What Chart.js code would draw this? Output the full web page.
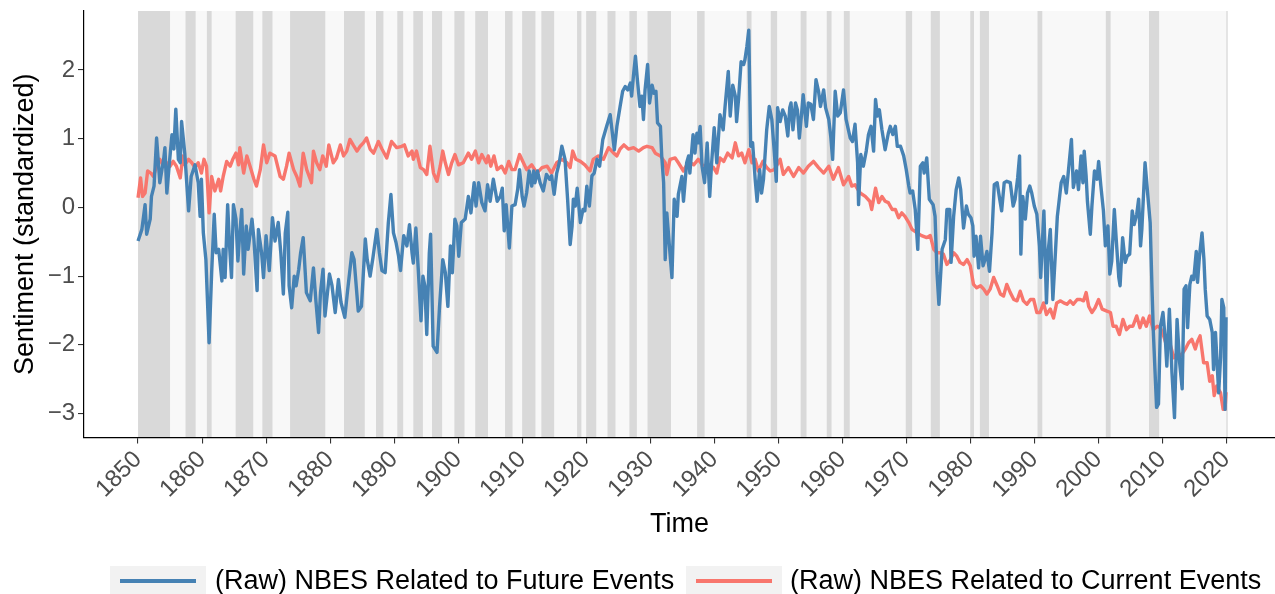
<!DOCTYPE html>
<html><head><meta charset="utf-8">
<script src="https://cdn.jsdelivr.net/npm/chart.js@4.4.1/dist/chart.umd.min.js"></script>
<style>
html,body{margin:0;padding:0;background:#fff;}
#wrap{position:relative;width:1275px;height:594px;overflow:hidden;background:#fff;}
#c{position:absolute;left:0;top:0;}
.key{position:absolute;top:566px;width:96px;height:30px;background:#f2f2f2;}
.key span{position:absolute;left:10px;right:10px;top:13px;height:4px;}
.lab{position:absolute;top:562px;font-family:'Liberation Sans',Arial,sans-serif;font-size:27px;color:#000;line-height:36px;white-space:nowrap;}
</style></head><body>
<div id="wrap">
<canvas id="c" width="1275" height="594"></canvas>
<div class="key" style="left:110px"><span id="k1"></span></div>
<div class="lab" style="left:215px" id="lab1"></div>
<div class="key" style="left:686px"><span id="k2"></span></div>
<div class="lab" style="left:790px" id="lab2"></div>
</div>
<script>
// ---------- data ----------
const seriesNames = ['(Raw) NBES Related to Future Events', '(Raw) NBES Related to Current Events'];
const xTickValues = [1850,1860,1870,1880,1890,1900,1910,1920,1930,1940,1950,1960,1970,1980,1990,2000,2010,2020];
const yTickValues = [-3,-2,-1,0,1,2];

const futureYears = [1850.0,1850.6,1851.1,1851.35,1851.9,1852.1,1852.5,1852.9,1853.4,1854.0,1854.2,1854.5,1854.9,1855.3,1855.6,1855.9,1856.3,1856.6,1856.8,1857.3,1857.9,1858.3,1858.9,1859.4,1859.7,1859.9,1860.2,1860.6,1861.1,1861.5,1861.9,1862.2,1862.6,1863.1,1863.3,1863.6,1864.0,1864.3,1864.6,1864.9,1865.3,1865.6,1865.9,1866.2,1866.5,1866.9,1867.2,1867.8,1868.1,1868.6,1868.8,1869.3,1869.6,1870.0,1870.5,1871.0,1871.4,1871.9,1872.3,1872.7,1873.0,1873.4,1873.6,1874.0,1874.4,1874.7,1875.1,1875.4,1875.8,1876.3,1876.9,1877.4,1877.8,1878.2,1878.5,1878.9,1879.2,1879.9,1880.3,1880.8,1881.3,1881.7,1882.3,1882.7,1883.4,1883.75,1884.4,1884.9,1885.5,1885.8,1886.25,1886.7,1887.3,1887.7,1888.1,1888.6,1889.1,1889.5,1889.9,1890.3,1890.7,1891.0,1891.5,1892.0,1892.4,1892.8,1893.0,1893.4,1893.8,1894.2,1894.5,1894.8,1895.1,1895.5,1895.7,1896.1,1896.7,1897.1,1897.6,1898.0,1898.4,1898.8,1899.1,1899.5,1899.8,1900.1,1900.5,1901.1,1901.6,1902.0,1902.5,1902.8,1903.2,1903.7,1904.2,1904.6,1905.0,1905.5,1906.1,1906.6,1906.9,1907.2,1907.5,1908.0,1908.4,1908.9,1909.3,1909.6,1910.0,1910.3,1910.7,1911.1,1911.5,1911.8,1912.0,1912.4,1912.8,1913.3,1913.8,1914.3,1914.6,1915.0,1915.4,1915.8,1916.2,1916.7,1917.1,1917.5,1917.8,1918.0,1918.3,1918.6,1919.1,1919.5,1919.8,1920.1,1920.5,1920.9,1921.25,1921.7,1922.1,1922.6,1923.2,1923.75,1924.4,1924.8,1925.3,1925.7,1926.1,1926.5,1926.9,1927.1,1927.4,1927.7,1928.0,1928.4,1928.7,1928.95,1929.2,1929.6,1929.9,1930.3,1930.6,1930.9,1931.15,1931.6,1931.8,1932.1,1932.35,1932.6,1933.0,1933.4,1933.75,1934.2,1934.4,1934.95,1935.2,1935.7,1936.0,1936.2,1936.7,1937.0,1937.3,1937.5,1937.8,1938.1,1938.5,1938.9,1939.3,1939.6,1940.0,1940.4,1940.9,1941.4,1941.7,1942.2,1942.5,1942.9,1943.3,1943.5,1943.8,1944.2,1944.6,1944.8,1945.1,1945.4,1945.7,1946.0,1946.4,1946.7,1947.1,1947.4,1947.7,1948.2,1948.6,1949.0,1949.4,1949.7,1949.9,1950.3,1950.7,1951.1,1951.5,1951.8,1952.0,1952.3,1952.7,1953.0,1953.3,1953.7,1953.9,1954.4,1954.7,1955.1,1955.5,1955.9,1956.3,1956.6,1957.1,1957.4,1957.9,1958.2,1958.5,1958.9,1959.3,1959.7,1960.2,1960.6,1961.25,1961.6,1962.0,1962.4,1962.55,1962.9,1963.3,1963.75,1964.1,1964.5,1964.9,1965.2,1965.5,1965.8,1966.2,1966.7,1967.2,1967.5,1967.9,1968.3,1968.6,1969.1,1969.6,1970.0,1970.4,1970.6,1971.0,1971.4,1971.8,1972.2,1972.6,1972.8,1973.2,1973.6,1974.2,1974.5,1974.8,1975.1,1975.6,1976.1,1976.35,1976.8,1977.0,1977.4,1977.8,1978.2,1978.5,1978.95,1979.4,1979.7,1980.1,1980.4,1980.6,1980.9,1981.3,1981.6,1982.0,1982.3,1982.6,1983.0,1983.4,1983.75,1984.2,1984.6,1984.9,1985.3,1985.7,1986.25,1986.7,1987.0,1987.4,1987.7,1987.9,1988.2,1988.6,1988.95,1989.3,1989.6,1990.0,1990.4,1990.8,1991.0,1991.5,1991.9,1992.2,1992.5,1992.9,1993.3,1993.6,1994.2,1994.6,1995.0,1995.4,1995.8,1996.1,1996.6,1996.9,1997.3,1997.6,1997.8,1998.1,1998.3,1998.75,1999.0,1999.4,1999.8,2000.05,2000.4,2000.8,2001.1,2001.5,2001.8,2002.1,2002.5,2002.8,2003.2,2003.4,2003.8,2004.2,2004.5,2004.9,2005.3,2005.6,2006.0,2006.3,2006.6,2006.8,2007.3,2007.7,2008.1,2008.4,2008.6,2009.1,2009.4,2009.7,2010.1,2010.5,2010.7,2011.1,2011.5,2011.9,2012.3,2012.7,2013.1,2013.4,2013.7,2013.95,2014.3,2014.6,2014.9,2015.3,2015.5,2015.8,2016.2,2016.5,2016.7,2017.0,2017.4,2017.8,2018.0,2018.3,2018.5,2018.8,2019.1,2019.3,2019.6,2019.8,2019.95];
const futureValues = [-0.49,-0.32,0.04,-0.39,-0.17,0.16,0.31,1.01,0.36,0.70,0.87,0.21,0.65,1.06,0.85,1.43,0.70,0.65,1.25,0.79,-0.05,0.45,0.62,0.36,-0.13,0.41,-0.37,-0.76,-1.97,-0.95,-0.10,-0.66,-0.61,-1.07,-0.61,-1.02,0.04,-0.56,-1.02,0.04,-0.17,-0.78,-0.37,-0.03,-0.97,-0.27,-0.61,-0.17,-0.46,-1.21,-0.32,-0.66,-1.02,-0.41,-0.92,-0.15,-0.49,-0.22,-0.66,-1.26,-0.37,-0.07,-1.14,-1.46,-1.00,-1.14,-0.90,-0.66,-0.44,-1.24,-1.36,-0.88,-1.38,-1.82,-1.24,-0.90,-1.58,-0.97,-1.14,-1.53,-1.05,-1.38,-1.60,-1.24,-0.66,-0.76,-1.51,-1.44,-0.46,-0.76,-1.00,-0.73,-0.32,-0.66,-0.92,-0.95,-0.22,0.19,-0.37,-0.51,-0.71,-0.92,-0.41,-0.56,-0.25,-0.66,-0.81,-0.30,-0.95,-1.65,-1.00,-1.14,-1.85,-0.66,-0.39,-2.02,-2.11,-1.44,-0.76,-0.95,-1.44,-0.56,-0.95,-0.17,-0.27,-0.71,-0.22,-0.17,0.16,-0.08,0.36,0.02,0.36,0.07,-0.05,0.33,0.09,0.41,0.09,0.16,0.28,-0.34,0.04,-0.59,0.02,0.04,0.26,0.55,0.16,0.02,0.21,0.53,0.31,0.53,0.36,0.53,0.36,0.24,0.48,0.41,0.46,0.19,0.50,0.65,0.89,0.70,0.12,-0.54,-0.27,0.12,0.02,0.28,-0.22,-0.03,-0.05,0.31,0.02,0.46,0.50,0.70,0.60,0.99,1.18,1.35,0.84,1.18,1.47,1.69,1.76,1.71,1.81,1.62,1.93,2.20,1.86,1.47,1.62,1.28,1.71,2.08,1.52,1.78,1.66,1.69,1.23,1.18,0.75,0.36,-0.76,-0.08,-0.56,-1.02,0.12,-0.13,0.19,0.45,0.09,0.65,0.75,0.50,1.06,0.79,1.08,0.94,1.18,0.60,0.36,0.94,0.16,0.65,1.16,0.65,1.35,1.13,1.47,1.98,1.33,1.78,1.62,1.25,1.57,2.12,2.08,2.15,2.34,2.58,0.89,0.94,0.41,0.09,0.55,0.21,0.41,1.13,1.47,1.28,0.79,0.38,1.45,1.25,1.42,1.33,1.04,1.45,1.52,1.13,1.52,1.42,1.01,1.42,1.64,1.18,1.52,1.50,1.28,1.86,1.69,1.47,1.71,1.45,1.28,1.04,0.70,1.69,1.33,1.38,1.71,1.28,1.01,0.96,1.21,0.65,0.04,0.77,0.60,0.82,1.06,1.18,0.82,1.57,1.33,1.42,1.13,0.84,1.08,1.18,1.06,1.18,0.89,0.89,0.75,0.55,0.31,0.21,0.24,-0.03,-0.61,0.60,0.65,0.50,0.72,0.12,0.04,-0.13,-0.95,-1.41,-0.61,-0.47,-0.03,-0.03,-0.80,-0.13,0.26,0.43,0.26,-0.30,0.02,-0.10,-0.15,-0.27,-0.71,-0.42,-0.88,-0.42,-0.85,-0.76,-0.64,-0.93,-0.37,0.33,0.36,0.12,-0.05,0.36,0.38,0.36,0.02,0.12,0.43,0.75,-0.68,0.16,-0.17,0.21,0.31,0.21,0.02,-0.10,-0.56,-1.02,-0.05,-1.39,-0.61,-0.32,-1.34,-0.66,-0.13,0.36,0.45,0.21,0.60,0.99,0.29,0.53,0.26,0.75,0.36,0.82,0.45,0.09,-0.39,0.02,0.53,0.41,0.67,0.31,-0.05,-0.56,-0.27,-0.97,-0.78,-0.03,-0.47,-1.02,-1.14,-0.44,-0.80,-0.71,-0.68,-0.05,-0.25,-0.10,0.12,-0.56,-0.32,0.65,0.21,-0.22,-1.22,-1.82,-2.91,-2.86,-1.73,-1.53,-1.97,-2.31,-1.48,-2.40,-3.06,-1.63,-2.26,-2.64,-1.19,-1.14,-1.75,-1.12,-1.00,-1.05,-0.64,-1.09,-0.71,-0.37,-0.76,-1.19,-1.58,-1.63,-1.82,-2.36,-1.82,-2.16,-2.70,-2.18,-1.34,-1.46,-2.94,-1.60];

const currentYears = [1850.0,1850.4,1850.7,1851.1,1851.5,1852.0,1852.4,1852.9,1853.4,1854.0,1854.5,1855.0,1855.5,1856.0,1856.6,1857.0,1857.3,1857.9,1858.4,1858.9,1859.4,1859.9,1860.3,1860.7,1861.1,1861.5,1862.0,1862.6,1862.9,1863.3,1863.85,1864.4,1864.8,1865.3,1865.7,1865.9,1866.5,1867.0,1867.5,1868.1,1868.5,1869.1,1869.6,1870.1,1870.6,1871.4,1872.2,1872.7,1873.2,1873.6,1874.3,1874.8,1875.3,1875.8,1876.35,1877.1,1877.4,1877.9,1878.4,1878.85,1879.4,1879.8,1880.5,1881.0,1881.6,1882.1,1882.6,1883.1,1883.6,1884.2,1884.7,1885.2,1885.7,1886.25,1886.8,1887.55,1888.1,1888.85,1889.6,1890.4,1891.2,1891.6,1892.2,1892.8,1893.0,1893.5,1894.1,1894.6,1895.1,1895.6,1896.15,1896.7,1897.2,1897.6,1898.0,1898.5,1899.0,1899.5,1900.05,1900.8,1901.6,1902.1,1902.7,1903.2,1903.7,1904.4,1904.7,1905.1,1905.6,1906.1,1906.8,1907.35,1907.9,1908.4,1908.9,1909.6,1910.2,1910.7,1911.5,1912.3,1913.1,1913.9,1914.6,1915.4,1916.2,1917.0,1917.5,1917.9,1918.4,1919.1,1919.8,1920.6,1921.1,1921.9,1922.7,1923.5,1924.3,1924.8,1925.3,1925.9,1926.6,1927.4,1928.2,1928.95,1929.5,1930.3,1930.8,1931.6,1932.35,1932.6,1933.1,1933.9,1934.4,1935.2,1936.0,1936.8,1937.5,1938.3,1939.1,1939.9,1940.4,1940.9,1941.5,1942.1,1942.8,1943.3,1943.8,1944.3,1944.8,1945.4,1945.9,1946.4,1946.9,1947.6,1948.2,1948.75,1949.4,1950.3,1950.8,1951.6,1952.4,1953.2,1953.95,1954.7,1955.5,1956.3,1957.1,1957.9,1958.6,1959.4,1960.2,1961.0,1961.5,1962.0,1962.8,1963.6,1964.3,1964.6,1965.2,1965.7,1966.2,1966.7,1967.2,1967.8,1968.3,1968.8,1969.3,1969.8,1970.4,1970.9,1971.7,1972.4,1973.2,1973.75,1974.3,1974.8,1975.3,1975.8,1976.35,1976.9,1977.4,1977.9,1978.4,1978.95,1979.5,1980.0,1980.5,1981.0,1981.6,1982.1,1982.6,1983.1,1983.65,1984.2,1984.7,1985.2,1985.7,1986.25,1986.8,1987.3,1987.8,1988.3,1988.85,1989.4,1989.9,1990.4,1990.9,1991.45,1991.9,1992.5,1993.0,1993.5,1994.1,1994.6,1995.1,1995.6,1996.1,1996.7,1997.2,1997.7,1998.1,1998.5,1999.0,1999.5,2000.05,2000.6,2001.35,2001.9,2002.3,2002.8,2003.3,2003.85,2004.4,2004.9,2005.4,2006.0,2006.5,2007.0,2007.5,2008.0,2008.6,2009.2,2009.7,2010.2,2010.7,2011.25,2011.8,2012.4,2012.9,2013.6,2014.1,2014.6,2015.15,2015.5,2015.9,2016.45,2017.0,2017.4,2017.8,2018.1,2018.5,2019.1,2019.5,2019.8,2019.95];
const currentValues = [0.14,0.43,0.16,0.21,0.53,0.50,0.45,0.60,0.70,0.60,0.65,0.60,0.67,0.60,0.43,0.75,0.62,0.70,0.65,0.58,0.65,0.50,0.70,0.60,-0.08,0.45,0.24,0.41,0.24,0.45,0.67,0.60,0.70,0.79,0.62,0.87,0.50,0.75,0.60,0.41,0.31,0.55,0.91,0.65,0.79,0.75,0.45,0.41,0.60,0.79,0.55,0.45,0.31,0.79,0.55,0.36,0.82,0.65,0.55,0.75,0.60,0.91,0.65,0.72,0.91,0.75,0.82,0.99,0.91,0.82,0.89,0.94,1.01,0.85,0.79,0.96,0.85,0.72,0.96,0.87,0.89,0.91,0.75,0.82,0.70,0.82,0.58,0.55,0.48,0.89,0.50,0.38,0.60,0.82,0.65,0.48,0.65,0.77,0.62,0.65,0.79,0.70,0.82,0.65,0.77,0.65,0.75,0.60,0.75,0.55,0.60,0.50,0.67,0.55,0.55,0.77,0.65,0.55,0.62,0.50,0.58,0.60,0.50,0.65,0.70,0.65,0.58,0.82,0.70,0.67,0.62,0.53,0.70,0.75,0.70,0.87,0.79,0.75,0.85,0.91,0.85,0.87,0.82,0.87,0.89,0.87,0.79,0.75,0.65,0.48,0.70,0.72,0.65,0.53,0.67,0.62,0.70,0.60,0.62,0.58,0.50,0.72,0.67,0.79,0.72,0.94,0.75,0.79,0.65,0.84,0.65,0.70,0.53,0.67,0.58,0.53,0.55,0.70,0.48,0.58,0.45,0.58,0.50,0.60,0.67,0.58,0.50,0.60,0.41,0.58,0.33,0.45,0.31,0.33,0.21,0.16,0.09,-0.03,0.28,0.07,0.16,0.09,0.07,-0.03,-0.03,-0.15,-0.08,-0.13,-0.22,-0.32,-0.37,-0.41,-0.44,-0.41,-0.61,-0.66,-0.66,-0.68,-0.83,-0.76,-0.66,-0.71,-0.80,-0.83,-0.76,-0.85,-1.12,-1.17,-1.14,-1.19,-1.26,-1.19,-1.02,-1.14,-1.26,-1.29,-1.12,-1.24,-1.34,-1.36,-1.22,-1.36,-1.41,-1.34,-1.34,-1.53,-1.53,-1.39,-1.56,-1.48,-1.61,-1.39,-1.36,-1.39,-1.41,-1.36,-1.41,-1.34,-1.34,-1.36,-1.24,-1.44,-1.53,-1.46,-1.34,-1.48,-1.51,-1.53,-1.73,-1.73,-1.85,-1.63,-1.78,-1.73,-1.73,-1.58,-1.75,-1.61,-1.73,-1.58,-1.78,-1.73,-1.75,-1.87,-2.02,-2.00,-2.19,-2.11,-2.16,-2.06,-1.97,-1.92,-2.06,-1.95,-1.87,-2.26,-2.26,-2.53,-2.45,-2.74,-2.60,-2.70,-2.94,-2.94,-2.69];

// NBER recession periods (decimal years: start, end)
const recessionStarts = [1850.0,1857.42,1860.75,1865.25,1869.42,1873.75,1882.17,1887.17,1890.5,1893.0,1895.92,1899.42,1902.67,1907.33,1910.0,1913.0,1918.58,1920.0,1923.33,1926.75,1929.58,1937.33,1945.08,1948.83,1953.5,1957.58,1960.25,1969.92,1973.83,1980.0,1981.5,1990.5,2001.17,2007.92,2020.0];
const recessionEnds   = [1855.0,1859.0,1861.5,1868.0,1871.0,1879.25,1885.42,1888.33,1891.42,1894.5,1897.5,1901.0,1904.67,1908.5,1912.08,1915.0,1919.25,1921.58,1924.58,1927.92,1933.25,1938.5,1945.83,1949.83,1954.42,1958.33,1961.17,1970.92,1975.25,1980.58,1982.92,1991.25,2001.92,2009.5,2020.2];
const shadeStart = 1850.0, shadeEnd = 2020.2;

// ---------- chart ----------
const FONT = "'Liberation Sans', Arial, sans-serif";
const colors = ['#4682B4', '#F8766D'];
document.getElementById('k1').style.background = colors[0];
document.getElementById('k2').style.background = colors[1];
document.getElementById('lab1').textContent = seriesNames[0];
document.getElementById('lab2').textContent = seriesNames[1];

const bandPlugin = {
  id: 'bands',
  beforeDraw(chart) {
    const {ctx, chartArea: a, scales: {x}} = chart;
    ctx.save();
    ctx.beginPath(); ctx.rect(a.left, a.top, a.right - a.left, a.bottom - a.top); ctx.clip();
    const x0 = x.getPixelForValue(shadeStart), x1 = x.getPixelForValue(shadeEnd);
    ctx.fillStyle = '#f8f8f8';
    ctx.fillRect(x0, a.top, x1 - x0, a.bottom - a.top);
    ctx.fillStyle = '#d9d9d9';
    for (let i = 0; i < recessionStarts.length; i++) {
      const p0 = x.getPixelForValue(recessionStarts[i]);
      const p1 = x.getPixelForValue(recessionEnds[i]);
      ctx.fillRect(p0, a.top, p1 - p0, a.bottom - a.top);
    }
    ctx.restore();
  }
};

const toXY = (xs, ys) => xs.map((v, i) => ({x: v, y: ys[i]}));

new Chart(document.getElementById('c'), {
  type: 'line',
  data: {
    datasets: [
      {label: seriesNames[0], data: toXY(futureYears, futureValues), borderColor: colors[0], borderWidth: 3.4, pointRadius: 0, tension: 0, borderJoinStyle: 'round', fill: false},
      {label: seriesNames[1], data: toXY(currentYears, currentValues), borderColor: colors[1], borderWidth: 3.4, pointRadius: 0, tension: 0, borderJoinStyle: 'round', fill: false}
    ]
  },
  options: {
    responsive: false, animation: false, devicePixelRatio: 1,
    layout: {padding: {top: 11, right: 0, bottom: 0, left: 0}},
    plugins: {legend: {display: false}, tooltip: {enabled: false}},
    scales: {
      x: {
        type: 'linear', min: 1841.56, max: 2027.6,
        afterBuildTicks: s => { s.ticks = xTickValues.map(v => ({value: v})); },
        afterFit: s => { s.height = 156.5; },
        grid: {display: true, drawOnChartArea: false, drawTicks: true, tickLength: 6, color: '#333', lineWidth: 1.1},
        border: {display: true, color: '#000', width: 1.2},
        ticks: {autoSkip: false, minRotation: 45, maxRotation: 45, padding: 2, color: '#4d4d4d', font: {family: FONT, size: 24}, callback: v => String(v)},
        title: {display: true, text: 'Time', color: '#000', font: {family: FONT, size: 27}, padding: {top: 0, bottom: 53}}
      },
      y: {
        min: -3.349, max: 2.859,
        afterBuildTicks: s => { s.ticks = yTickValues.map(v => ({value: v})); },
        afterFit: s => { s.width = 84; s.paddingTop = 0; s.paddingBottom = 0; },
        grid: {display: true, drawOnChartArea: false, drawTicks: true, tickLength: 6, color: '#333', lineWidth: 1.1},
        border: {display: true, color: '#000', width: 1.2},
        ticks: {padding: 3, color: '#4d4d4d', font: {family: FONT, size: 24}, callback: v => (v < 0 ? '\u2212' + Math.abs(v) : String(v))},
        title: {display: true, text: 'Sentiment (standardized)', color: '#000', font: {family: FONT, size: 27}, padding: {top: 9, bottom: 0}}
      }
    }
  },
  plugins: [bandPlugin]
});
</script>
</body></html>
